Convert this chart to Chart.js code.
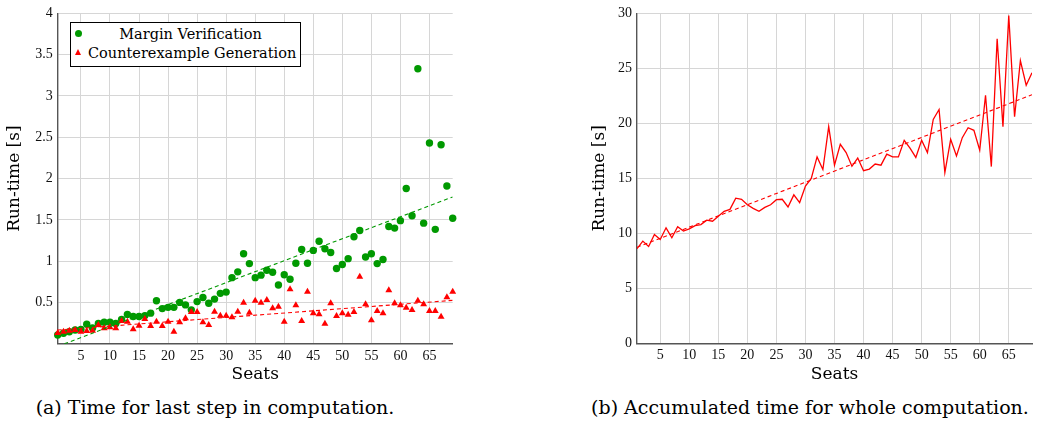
<!DOCTYPE html>
<html>
<head>
<meta charset="utf-8">
<script src="https://cdn.jsdelivr.net/npm/chart.js@4.4.1/dist/chart.umd.min.js"></script>
<style>
    body { margin: 0; background: #fff; width: 1042px; height: 423px; position: relative; overflow: hidden; font-family: "DejaVu Serif", serif; color: #000; }
    canvas { position: absolute; top: 0; }
    #graficoUltimo { left: 0; }
    #graficoTotal { left: 580px; }
    #legenda { position: absolute; left: 70px; top: 22px; width: 229px; height: 43px; border: 1px solid #000; background: #fff; font-size: 14.5px; }
    #legenda .item { position: absolute; left: 0; width: 229px; height: 20px; line-height: 20px; }
    #legenda .texto { position: absolute; left: 17px; width: 205px; text-align: center; white-space: nowrap; }
    .bola { position: absolute; left: 4px; top: 6px; width: 7px; height: 7px; border-radius: 50%; background: rgb(0,153,0); }
    .triangulo { position: absolute; left: 4px; top: 6px; width: 0; height: 0; border-left: 3.6px solid transparent; border-right: 3.6px solid transparent; border-bottom: 6.4px solid #f00; }
    .legenda-cap { position: absolute; top: 396px; font-size: 19px; text-align: center; white-space: nowrap; }
</style>
</head>
<body>
<canvas id="graficoUltimo" width="470" height="390"></canvas>
<canvas id="graficoTotal" width="462" height="390"></canvas>

<div id="legenda">
    <div class="item" style="top:1px"><span class="bola"></span><span class="texto">Margin Verification</span></div>
    <div class="item" style="top:20px"><span class="triangulo"></span><span class="texto">Counterexample Generation</span></div>
</div>

<div class="legenda-cap" style="left:0; width:430px">(a) Time for last step in computation.</div>
<div class="legenda-cap" style="left:590px; width:440px">(b) Accumulated time for whole computation.</div>

<script>
// Assentos (eixo x) - mesmo para os dois graficos
const assentos = [1, 2, 3, 4, 5, 6, 7, 8, 9, 10, 11, 12, 13, 14, 15, 16, 17, 18, 19, 20,
    21, 22, 23, 24, 25, 26, 27, 28, 29, 30, 31, 32, 33, 34, 35, 36, 37, 38, 39, 40,
    41, 42, 43, 44, 45, 46, 47, 48, 49, 50, 51, 52, 53, 54, 55, 56, 57, 58, 59, 60,
    61, 62, 63, 64, 65, 66, 67, 68, 69];

// (a) tempo do ultimo passo [s]
const margemVerif = [0.105, 0.126, 0.145, 0.166, 0.174, 0.235, 0.19, 0.245, 0.26, 0.26,
    0.245, 0.295, 0.355, 0.33, 0.33, 0.34, 0.37, 0.52, 0.425, 0.44,
    0.44, 0.50, 0.47, 0.41, 0.51, 0.56, 0.49, 0.54, 0.61, 0.625,
    0.80, 0.87, 1.09, 0.97, 0.80, 0.83, 0.89, 0.865, 0.71, 0.835,
    0.78, 0.975, 1.14, 0.975, 1.13, 1.24, 1.15, 1.105, 0.91, 0.96,
    1.03, 1.295, 1.37, 1.05, 1.09, 0.97, 1.02, 1.42, 1.40, 1.49,
    1.88, 1.55, 3.33, 1.46, 2.43, 1.385, 2.41, 1.91, 1.52];

const contraExemplo = [0.13, 0.145, 0.157, 0.166, 0.145, 0.154, 0.157, 0.226, 0.186, 0.198,
    0.186, 0.275, 0.266, 0.174, 0.218, 0.30, 0.214, 0.266, 0.214, 0.266,
    0.145, 0.259, 0.307, 0.384, 0.384, 0.259, 0.226, 0.387, 0.339, 0.339,
    0.32, 0.387, 0.496, 0.375, 0.52, 0.496, 0.529, 0.428, 0.448, 0.266,
    0.659, 0.465, 0.275, 0.63, 0.368, 0.356, 0.242, 0.489, 0.335, 0.368,
    0.351, 0.384, 0.81, 0.477, 0.283, 0.396, 0.368, 0.646, 0.489, 0.465,
    0.436, 0.408, 0.52, 0.477, 0.396, 0.396, 0.327, 0.562, 0.63];

// retas de tendencia (extremos)
const tendMargemX = [1, 69];
const tendMargemY = [-0.032, 1.777];
const tendContraX = [1, 69];
const tendContraY = [0.165, 0.525];

// (b) tempo acumulado [s]
const tempoTotal = [8.6, 9.29, 8.8, 9.9, 9.44, 10.5, 9.6, 10.6, 10.2, 10.4,
    10.7, 10.8, 11.2, 11.1, 11.55, 12.0, 12.18, 13.2, 13.1, 12.6,
    12.27, 12.0, 12.36, 12.6, 13.06, 13.1, 12.4, 13.5, 12.8, 14.3,
    15.0, 16.95, 15.8, 19.7, 16.2, 18.1, 17.35, 16.1, 16.85, 15.7,
    15.84, 16.3, 16.2, 17.2, 16.95, 16.95, 18.46, 17.74, 16.9, 18.46,
    17.34, 20.36, 21.26, 15.53, 18.55, 17.04, 18.7, 19.6, 19.37, 17.56,
    22.56, 16.07, 27.7, 19.7, 29.8, 20.6, 25.7, 23.47, 24.6];
const tendTotalX = [1, 69];
const tendTotalY = [8.73, 22.6];

// ticks
const ticksX = [5, 10, 15, 20, 25, 30, 35, 40, 45, 50, 55, 60, 65];
const ticksYa = [0.5, 1, 1.5, 2, 2.5, 3, 3.5, 4];
const ticksYb = [0, 5, 10, 15, 20, 25, 30];

const VERDE = 'rgb(0,153,0)';
const VERMELHO = 'rgb(255,0,0)';

const pontos = (xs, ys) => xs.map((x, i) => ({ x: x, y: ys[i] }));

function fixarTicks(lista) {
    return scale => { scale.ticks = lista.map(v => ({ value: v })); };
}

function eixos(yMin, yMax, ticksY, yRotuloPad, yLargura, xAltura) {
    const fonteTick = { family: '"Liberation Serif", serif', size: 14 };
    const fonteTitulo = { family: '"DejaVu Serif", serif', size: 17 };
    return {
        x: {
            type: 'linear',
            min: 1,
            max: 69,
            afterBuildTicks: fixarTicks(ticksX),
            afterFit: s => { s.height = xAltura; },
            grid: { color: '#d6d6d6', lineWidth: 1, drawTicks: false },
            border: { color: '#555', width: 1.4 },
            ticks: { font: fonteTick, color: '#111', padding: 4, maxRotation: 0, autoSkip: false, callback: v => String(v) },
            title: { display: true, text: 'Seats', font: fonteTitulo, color: '#000', padding: { top: 0, bottom: 4.8 } }
        },
        y: {
            type: 'linear',
            min: yMin,
            max: yMax,
            afterBuildTicks: fixarTicks(ticksY),
            afterFit: s => { s.width = yLargura; },
            grid: { color: '#d6d6d6', lineWidth: 1, drawTicks: false },
            border: { color: '#555', width: 1.4 },
            ticks: { font: fonteTick, color: '#111', padding: 5, callback: v => String(v) },
            title: { display: true, text: 'Run-time [s]', font: fonteTitulo, color: '#000', padding: { top: yRotuloPad, bottom: 0 } }
        }
    };
}

const comum = {
    responsive: false,
    animation: false,
    plugins: { legend: { display: false }, tooltip: { enabled: false } }
};

function desenhar() {
    new Chart(document.getElementById('graficoUltimo'), {
        type: 'scatter',
        data: {
            datasets: [
                {
                    label: 'Margin Verification',
                    data: pontos(assentos, margemVerif),
                    pointStyle: 'circle',
                    pointRadius: 3.7,
                    pointBackgroundColor: VERDE,
                    pointBorderWidth: 0,
                    clip: false,
                    order: 2
                },
                {
                    label: 'Counterexample Generation',
                    data: pontos(assentos, contraExemplo),
                    pointStyle: 'triangle',
                    pointRadius: 4,
                    pointBackgroundColor: VERMELHO,
                    pointBorderWidth: 0,
                    clip: false,
                    order: 1
                },
                {
                    type: 'line',
                    data: pontos(tendMargemX, tendMargemY),
                    borderColor: VERDE,
                    borderWidth: 1.1,
                    borderDash: [4, 3],
                    pointRadius: 0,
                    order: 0
                },
                {
                    type: 'line',
                    data: pontos(tendContraX, tendContraY),
                    borderColor: VERMELHO,
                    borderWidth: 1.1,
                    borderDash: [4, 3],
                    pointRadius: 0,
                    order: 0
                }
            ]
        },
        options: Object.assign({}, comum, {
            layout: { padding: { left: 0, right: 17.3, top: 13.2, bottom: 0 } },
            scales: eixos(0, 4, ticksYa, 4.8, 57.7, 46.3)
        })
    });

    new Chart(document.getElementById('graficoTotal'), {
        type: 'line',
        data: {
            datasets: [
                {
                    label: 'Accumulated',
                    data: pontos(assentos, tempoTotal),
                    borderColor: VERMELHO,
                    borderWidth: 1.3,
                    pointRadius: 0,
                    tension: 0
                },
                {
                    data: pontos(tendTotalX, tendTotalY),
                    borderColor: VERMELHO,
                    borderWidth: 1.1,
                    borderDash: [4, 3],
                    pointRadius: 0
                }
            ]
        },
        options: Object.assign({}, comum, {
            layout: { padding: { left: 0, right: 10, top: 11.8, bottom: 0 } },
            scales: eixos(0, 30, ticksYb, 9.8, 57, 46.7)
        })
    });
}

// garante que as fontes do sistema estejam prontas antes de desenhar no canvas
Promise.all([
    document.fonts.load('17px "DejaVu Serif"'),
    document.fonts.load('14px "Liberation Serif"')
]).then(desenhar, desenhar);
</script>
</body>
</html>
